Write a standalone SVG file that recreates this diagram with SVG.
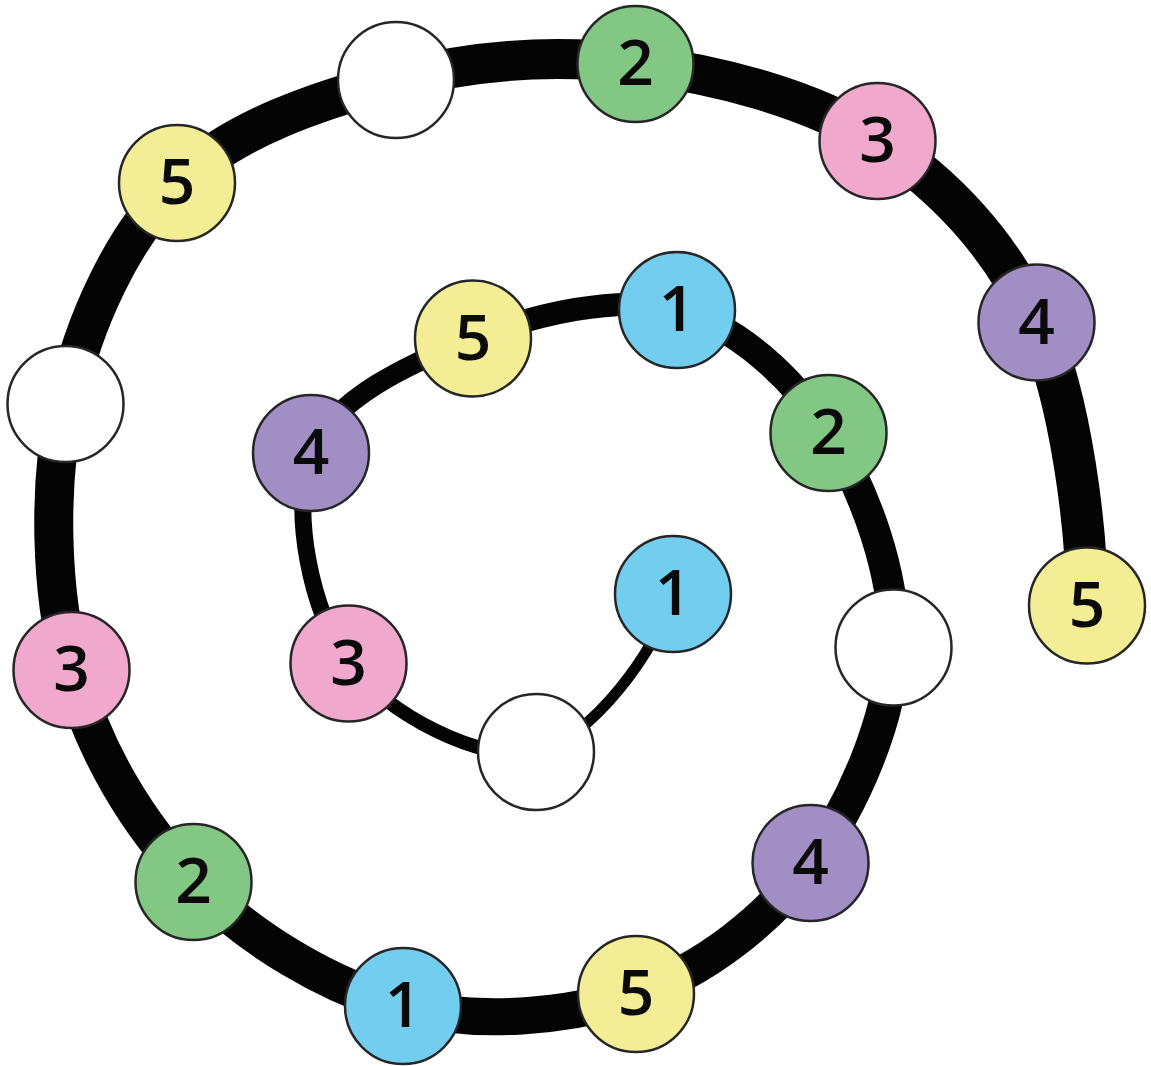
<svg xmlns="http://www.w3.org/2000/svg" width="1151" height="1066" viewBox="0 0 1151 1066">
<style>
.seg{fill:none;stroke:#050405;stroke-linecap:butt}
.n{stroke:#262626;stroke-width:2.5}
.blue{fill:#72CDEF}
.green{fill:#83C785}
.pink{fill:#F0A8CC}
.purple{fill:#A18EC5}
.yellow{fill:#F3ED95}
.white{fill:#FFFFFF}
.t{font-family:"Open Sans","DejaVu Sans",sans-serif;font-size:64px;font-weight:600;fill:#0a0a0a;text-anchor:middle}
</style>
<rect width="1151" height="1066" fill="#FFFFFF"/>
<g id="connectors">
<path class="seg" stroke-width="11" d="M673,594 C658,649 590.1,740.4 536,752"/>
<path class="seg" stroke-width="14" d="M536,752 C481.9,763.6 386,713.3 348.5,663.5"/>
<path class="seg" stroke-width="17" d="M348.5,663.5 C311,613.7 290.25,507.2 311,453"/>
<path class="seg" stroke-width="20" d="M311,453 C331.75,398.8 412,362.3 473,338.5"/>
<path class="seg" stroke-width="23" d="M473,338.5 C534,314.7 617.75,294.25 677,310"/>
<path class="seg" stroke-width="27" d="M677,310 C736.25,325.75 792.4,376.75 828.5,433"/>
<path class="seg" stroke-width="31" d="M828.5,433 C864.6,489.25 896.5,575.8 893.5,647.5"/>
<path class="seg" stroke-width="34" d="M893.5,647.5 C890.5,719.2 853.4,805.25 810.5,863"/>
<path class="seg" stroke-width="36" d="M810.5,863 C767.6,920.75 703.9,970.2 636,994"/>
<path class="seg" stroke-width="37" d="M636,994 C568.1,1017.8 476.75,1024.7 403,1006"/>
<path class="seg" stroke-width="38" d="M403,1006 C329.25,987.3 248.75,938 193.5,882"/>
<path class="seg" stroke-width="38" d="M193.5,882 C138.25,826 92.8,749.7 71.5,670"/>
<path class="seg" stroke-width="39" d="M71.5,670 C50.2,590.3 47.9,485.2 65.5,404"/>
<path class="seg" stroke-width="39" d="M65.5,404 C83.1,322.8 121.9,237 177,183"/>
<path class="seg" stroke-width="40" d="M177,183 C232.1,129 319.6,99.8 396,80"/>
<path class="seg" stroke-width="40" d="M396,80 C472.4,60.2 555.25,53.8 635.5,64"/>
<path class="seg" stroke-width="40" d="M635.5,64 C715.75,74.2 810.7,97.9 877.5,141"/>
<path class="seg" stroke-width="41" d="M877.5,141 C944.3,184.1 1001.6,245.1 1036.5,322.5"/>
<path class="seg" stroke-width="42" d="M1036.5,322.5 C1071.4,399.9 1087,530.5 1087,605.5"/>
</g>
<g id="n0"><circle class="n blue" cx="673" cy="594" r="58"/><text class="t" x="673" y="615">1</text></g>
<g id="n1"><circle class="n white" cx="536" cy="752" r="58"/></g>
<g id="n2"><circle class="n pink" cx="348.5" cy="663.5" r="58"/><text class="t" x="348.5" y="684.5">3</text></g>
<g id="n3"><circle class="n purple" cx="311" cy="453" r="58"/><text class="t" x="311" y="474">4</text></g>
<g id="n4"><circle class="n yellow" cx="473" cy="338.5" r="58"/><text class="t" x="473" y="359.5">5</text></g>
<g id="n5"><circle class="n blue" cx="677" cy="310" r="58"/><text class="t" x="677" y="331">1</text></g>
<g id="n6"><circle class="n green" cx="828.5" cy="433" r="58"/><text class="t" x="828.5" y="454">2</text></g>
<g id="n7"><circle class="n white" cx="893.5" cy="647.5" r="58"/></g>
<g id="n8"><circle class="n purple" cx="810.5" cy="863" r="58"/><text class="t" x="810.5" y="884">4</text></g>
<g id="n9"><circle class="n yellow" cx="636" cy="994" r="58"/><text class="t" x="636" y="1015">5</text></g>
<g id="n10"><circle class="n blue" cx="403" cy="1006" r="58"/><text class="t" x="403" y="1027">1</text></g>
<g id="n11"><circle class="n green" cx="193.5" cy="882" r="58"/><text class="t" x="193.5" y="903">2</text></g>
<g id="n12"><circle class="n pink" cx="71.5" cy="670" r="58"/><text class="t" x="71.5" y="691">3</text></g>
<g id="n13"><circle class="n white" cx="65.5" cy="404" r="58"/></g>
<g id="n14"><circle class="n yellow" cx="177" cy="183" r="58"/><text class="t" x="177" y="204">5</text></g>
<g id="n15"><circle class="n white" cx="396" cy="80" r="58"/></g>
<g id="n16"><circle class="n green" cx="635.5" cy="64" r="58"/><text class="t" x="635.5" y="85">2</text></g>
<g id="n17"><circle class="n pink" cx="877.5" cy="141" r="58"/><text class="t" x="877.5" y="162">3</text></g>
<g id="n18"><circle class="n purple" cx="1036.5" cy="322.5" r="58"/><text class="t" x="1036.5" y="343.5">4</text></g>
<g id="n19"><circle class="n yellow" cx="1087" cy="605.5" r="58"/><text class="t" x="1087" y="626.5">5</text></g>
</svg>
